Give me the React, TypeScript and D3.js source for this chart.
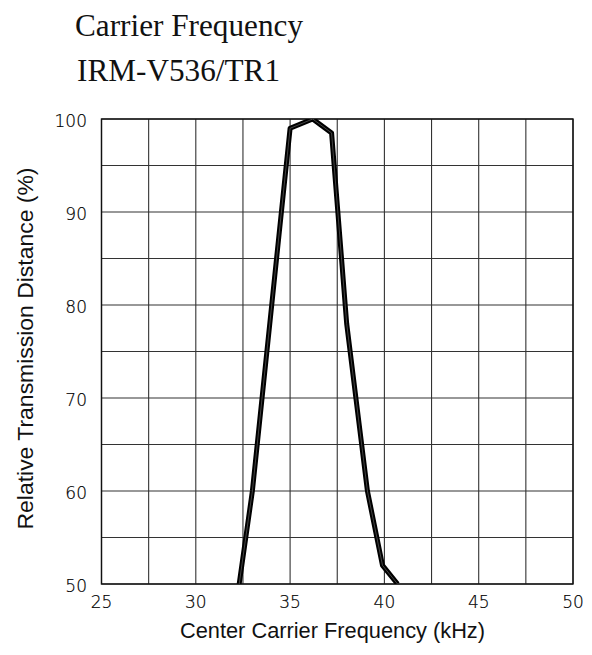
import * as d3 from 'd3';

const xTicks = [25, 30, 35, 40, 45, 50];
const yTicks = [50, 60, 70, 80, 90, 100];
const freq = [32.3, 33.0, 35.0, 36.2, 37.2, 38.0, 39.1, 39.9, 40.7];
const distance = [50, 60, 99, 100, 98.5, 78, 60, 52, 50];

const W = 592;
const H = 655;
const margin = { top: 119, right: 19, bottom: 71, left: 101.5 };

export default function App() {
  const x = d3.scaleLinear().domain([25, 50]).range([margin.left, W - margin.right]);
  const y = d3.scaleLinear().domain([50, 100]).range([H - margin.bottom, margin.top]);

  const gridX = d3.range(25, 50.01, 2.5);
  const gridY = d3.range(50, 100.01, 5);

  const pts: [number, number][] = freq.map((f, i) => [f, distance[i]]);
  const line = d3.line<[number, number]>().x((d) => x(d[0])).y((d) => y(d[1]));
  const path = line(pts) || '';

  const tickFont = "'DejaVu Sans', sans-serif";
  const labelFont = "'Liberation Sans Narrow', 'Liberation Sans', sans-serif";

  return (
    <svg width={W} height={H} style={{ position: 'absolute', left: 0, top: 0, background: '#fff' }}>
      <text x={75} y={36} fontFamily="'Liberation Serif', serif" fontSize={32} fill="#111" textLength={228} lengthAdjust="spacingAndGlyphs">
        Carrier Frequency
      </text>
      <text x={77} y={81} fontFamily="'Liberation Serif', serif" fontSize={32} fill="#111" textLength={203} lengthAdjust="spacingAndGlyphs">
        IRM-V536/TR1
      </text>

      <clipPath id="plot">
        <rect x={x(25)} y={y(100)} width={x(50) - x(25)} height={y(50) - y(100)} />
      </clipPath>

      {gridX.map((v) => (
        <line key={'gx' + v} x1={x(v)} x2={x(v)} y1={y(50)} y2={y(100)} stroke="#333" strokeWidth={1.1} />
      ))}
      {gridY.map((v) => (
        <line key={'gy' + v} x1={x(25)} x2={x(50)} y1={y(v)} y2={y(v)} stroke="#333" strokeWidth={1.1} />
      ))}
      <rect x={x(25)} y={y(100)} width={x(50) - x(25)} height={y(50) - y(100)} fill="none" stroke="#111" strokeWidth={1.4} />

      <g clipPath="url(#plot)">
        <path d={path} fill="none" stroke="#000" strokeWidth={5} strokeLinejoin="round" />
        <path d={path} fill="none" stroke="#555" strokeWidth={0.8} strokeLinejoin="round" />
      </g>

      {yTicks.map((v) => (
        <text key={'yt' + v} x={87} y={y(v) + 8} textAnchor="end" fontFamily={tickFont} fontSize={17} fontWeight={200} fill="#000" stroke="#000" strokeWidth={0.2}>
          {v}
        </text>
      ))}
      {xTicks.map((v) => (
        <text key={'xt' + v} x={x(v)} y={608} textAnchor="middle" fontFamily={tickFont} fontSize={17} fontWeight={200} fill="#000" stroke="#000" strokeWidth={0.2}>
          {v}
        </text>
      ))}

      <text x={332.5} y={638} textAnchor="middle" fontFamily={labelFont} fontSize={22} fill="#111" textLength={305} lengthAdjust="spacingAndGlyphs">
        Center Carrier Frequency  (kHz)
      </text>
      <text transform={`translate(33,348.5) rotate(-90)`} textAnchor="middle" fontFamily={labelFont} fontSize={22} fill="#111" textLength={362} lengthAdjust="spacingAndGlyphs">
        Relative Transmission Distance (%)
      </text>
    </svg>
  );
}
